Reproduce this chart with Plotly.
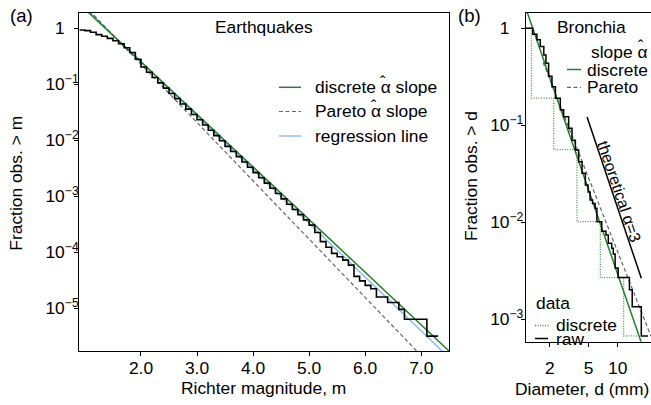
import plotly.graph_objects as go

W, H = 651, 405
FONT = "Liberation Sans"
FS = 17.4
GREEN = "#23802a"
GREEN_DOT = "#3c9a3c"
BLUE = "#8cbcf0"
GRAY = "#666666"

# ---------------- panel (a): earthquakes ----------------
mag = [0.9, 1.0, 1.1, 1.2, 1.3, 1.4, 1.5, 1.6, 1.7, 1.8, 1.9,
       2.0, 2.1, 2.2, 2.3, 2.4, 2.5, 2.6, 2.7, 2.8, 2.9,
       3.0, 3.1, 3.2, 3.3, 3.4, 3.5, 3.6, 3.7, 3.8, 3.9,
       4.0, 4.1, 4.2, 4.3, 4.4, 4.5, 4.6, 4.7, 4.8, 4.9,
       5.0, 5.1, 5.2, 5.3, 5.4, 5.5, 5.6, 5.7, 5.8, 5.9,
       6.0, 6.1, 6.2, 6.3, 6.4, 6.5, 6.6, 6.7, 6.8, 6.9,
       7.0, 7.1, 7.2, 7.3]
frac_mag = [0.93, 0.91, 0.85, 0.77, 0.72, 0.66, 0.60, 0.53, 0.45, 0.37, 0.28,
            0.203, 0.164, 0.132, 0.106, 0.0855, 0.0685, 0.0555, 0.0445, 0.0360, 0.0288,
            0.0233, 0.0187, 0.0151, 0.0121, 0.0098, 0.0078, 0.0063, 0.0051, 0.0041, 0.0033,
            0.00265, 0.00214, 0.00172, 0.00139, 0.00112, 0.00090, 0.00072, 0.00058, 0.00047, 0.00038,
            0.000305, 0.000225, 0.000155, 0.000123, 0.0000955, 0.0000832, 0.0000724, 0.0000589, 0.0000372, 0.0000309,
            0.0000257, 0.0000224, 0.0000159, 0.0000159, 0.0000127, 0.0000127, 0.00000955, 0.00000637, 0.00000637, 0.00000637,
            0.00000637, 0.00000318, 0.00000318, 0.00000318]

disc_line_m = [0.9, 7.5]
disc_line_f = [2.73, 1.71e-6]
pareto_line_m = [1.0, 7.0]
pareto_line_f = [2.51, 1.42e-6]
reg_line_m = [0.9, 7.5]
reg_line_f = [2.86, 1.30e-6]

a_xticks = [2, 3, 4, 5, 6, 7]
a_xticktext = ["2.0", "3.0", "4.0", "5.0", "6.0", "7.0"]
a_yticks = [1, 1e-1, 1e-2, 1e-3, 1e-4, 1e-5]
a_yexp = ["0", "−1", "−2", "−3", "−4", "−5"]

# ---------------- panel (b): bronchia ----------------
raw_d = [1.134, 1.33, 1.47, 1.59, 1.73, 1.82, 1.94, 2.10, 2.28, 2.56, 2.77,
         3.12, 3.38, 3.66, 3.96, 4.29, 4.64, 4.95, 5.19, 5.5, 5.85, 6.1,
         6.84, 7.57, 8.0, 8.67, 9.0, 9.4, 10.1, 13.2, 14.1, 17.5, 20.5]
raw_p = [1.0, 0.87, 0.76, 0.65, 0.53, 0.435, 0.32, 0.25, 0.19, 0.144, 0.122,
         0.093, 0.070, 0.0555, 0.042, 0.032, 0.0242, 0.0205, 0.0169, 0.0156, 0.0139, 0.0101,
         0.00805, 0.00738, 0.00604, 0.00537, 0.0047, 0.00336, 0.00268, 0.00201, 0.00134, 0.00067, 0.00067]
disc_d = [1.134, 1.29, 2.19, 3.80, 6.62, 11.5, 15.8]
disc_p = [1.0, 0.19, 0.056, 0.0101, 0.00267, 0.00067, 0.00067]

b_disc_line_d = [1.1, 22.0]
b_disc_line_p = [1.736, 0.000295]
b_pareto_line_d = [1.7, 22.0]
b_pareto_line_p = [0.446, 0.000665]
theo_d = [4.83, 17.5]
theo_p = [0.1213, 0.00264]

b_xticks = [2, 5, 10]
b_xticktext = ["2", "5", "10"]
b_yticks = [1, 1e-1, 1e-2, 1e-3]
b_yexp = ["0", "−1", "−2", "−3"]


def ytext(exps):
    out = []
    for e in exps:
        if e == "0":
            out.append("1<sup><span style='color:rgba(0,0,0,0)'>−1</span></sup>")
        else:
            out.append("10<sup>" + e + "</sup>")
    return out


fig = go.Figure()

# panel a traces
fig.add_trace(go.Scatter(x=reg_line_m, y=reg_line_f, mode="lines",
                         line=dict(color=BLUE, width=1.5), xaxis="x", yaxis="y"))
fig.add_trace(go.Scatter(x=pareto_line_m, y=pareto_line_f, mode="lines",
                         line=dict(color=GRAY, width=1.2, dash="4px,2.5px"), xaxis="x", yaxis="y"))
fig.add_trace(go.Scatter(x=disc_line_m, y=disc_line_f, mode="lines",
                         line=dict(color=GREEN, width=1.5), xaxis="x", yaxis="y"))
fig.add_trace(go.Scatter(x=mag, y=frac_mag, mode="lines", line_shape="hv",
                         line=dict(color="black", width=1.6), xaxis="x", yaxis="y"))

# panel b traces
fig.add_trace(go.Scatter(x=disc_d, y=disc_p, mode="lines", line_shape="hv",
                         line=dict(color=GREEN_DOT, width=1.3, dash="1px,1.5px"), xaxis="x2", yaxis="y2"))
fig.add_trace(go.Scatter(x=b_pareto_line_d, y=b_pareto_line_p, mode="lines",
                         line=dict(color=GRAY, width=1.2, dash="4px,2.5px"), xaxis="x2", yaxis="y2"))
fig.add_trace(go.Scatter(x=b_disc_line_d, y=b_disc_line_p, mode="lines",
                         line=dict(color=GREEN, width=1.5), xaxis="x2", yaxis="y2"))
fig.add_trace(go.Scatter(x=raw_d, y=raw_p, mode="lines", line_shape="hv",
                         line=dict(color="black", width=1.5), xaxis="x2", yaxis="y2"))
fig.add_trace(go.Scatter(x=theo_d, y=theo_p, mode="lines",
                         line=dict(color="black", width=1.5), xaxis="x2", yaxis="y2"))


def px(x):
    return x / W


def py(y):
    return 1 - y / H


axis_common = dict(showgrid=False, zeroline=False, showline=True, linecolor="black",
                   linewidth=1.3, ticks="outside", ticklen=4, tickwidth=1.3, tickcolor="black",
                   tickfont=dict(size=FS, color="black", family=FONT))

fig.update_layout(
    width=W, height=H, autosize=False,
    margin=dict(l=0, r=0, t=0, b=0),
    paper_bgcolor="white", plot_bgcolor="white",
    showlegend=False,
    font=dict(family=FONT, size=FS, color="black"),
    xaxis=dict(domain=[px(79.3), px(449.3)], range=[0.9, 7.5], anchor="y",
               tickvals=a_xticks, ticktext=a_xticktext, mirror=True,
               ticklabelstandoff=-3, **axis_common),
    yaxis=dict(domain=[py(351), py(13)], type="log", range=[-5.7625, 0.273], anchor="x",
               tickvals=a_yticks, ticktext=ytext(a_yexp), mirror=True,
               ticklabelstandoff=-8, **axis_common),
    xaxis2=dict(domain=[px(526), 1.0], type="log", range=[0.0546, 1.343], anchor="y2",
                tickvals=b_xticks, ticktext=b_xticktext, mirror=True,
                ticklabelstandoff=6, **axis_common),
    yaxis2=dict(domain=[py(341.7), py(12.7)], type="log", range=[-3.234, 0.161], anchor="x2",
                tickvals=b_yticks, ticktext=ytext(b_yexp), mirror=False,
                ticklabelstandoff=-6, **axis_common),
)


def ann(text, x, y, xanchor="center", size=FS, angle=0):
    return dict(text=text, x=px(x), y=py(y), xref="paper", yref="paper",
                xanchor=xanchor, yanchor="middle", showarrow=False,
                font=dict(size=size, color="black", family=FONT), textangle=angle)


annotations = [
    ann("(a)", 21.5, 15.8, size=18.5),
    ann("(b)", 469.8, 15.5, size=18.5),
    ann("Earthquakes", 263.8, 26.7),
    ann("discrete α slope", 312.7, 87.3, xanchor="left"),
    ann("ˆ", 383.0, 82.5, size=16),
    ann("Pareto α slope", 312.7, 111.5, xanchor="left"),
    ann("ˆ", 373.5, 106.7, size=16),
    ann("regression line", 312.7, 136, xanchor="left"),
    ann("Richter magnitude, m", 263.5, 388),
    ann("Fraction obs. > m", 15.7, 183, angle=-90),
    ann("Bronchia", 555.3, 26.7, xanchor="left"),
    ann("slope α", 589, 51.7, xanchor="left"),
    ann("ˆ", 641.0, 46.9, size=16),
    ann("discrete", 585.3, 69.5, xanchor="left"),
    ann("Pareto", 585.3, 87.3, xanchor="left"),
    ann("data", 533.5, 303.3, xanchor="left"),
    ann("discrete", 553.5, 325, xanchor="left"),
    ann("raw", 553.5, 338.5, xanchor="left"),
    ann("theoretical α=3", 619.5, 191, size=16, angle=71.3),
    ann("Diameter, d (mm)", 581.7, 389),
    ann("Fraction obs. > d", 471, 176, angle=-90),
]
fig.update_layout(annotations=annotations)


def seg(x0, x1, y, color, width=1.5, dash="solid"):
    return dict(type="line", xref="paper", yref="paper", x0=px(x0), x1=px(x1),
                y0=py(y), y1=py(y), line=dict(color=color, width=width, dash=dash))


shapes = [
    seg(279, 301, 87.3, GREEN),
    seg(279, 301, 111.5, GRAY, 1.2, "4px,2.5px"),
    seg(279, 301, 136, BLUE),
    seg(567, 581, 69.5, GREEN),
    seg(567, 581, 87.3, GRAY, 1.2, "4px,2.5px"),
    seg(535, 550, 325.5, GREEN_DOT, 1.3, "1px,1.5px"),
    seg(535, 548, 338.5, "black"),
]
fig.update_layout(shapes=shapes)

fig.write_html("out.html", config={"displayModeBar": False},
               post_script="document.body.style.margin='0px';document.body.style.padding='0px';document.body.style.overflow='hidden';")
